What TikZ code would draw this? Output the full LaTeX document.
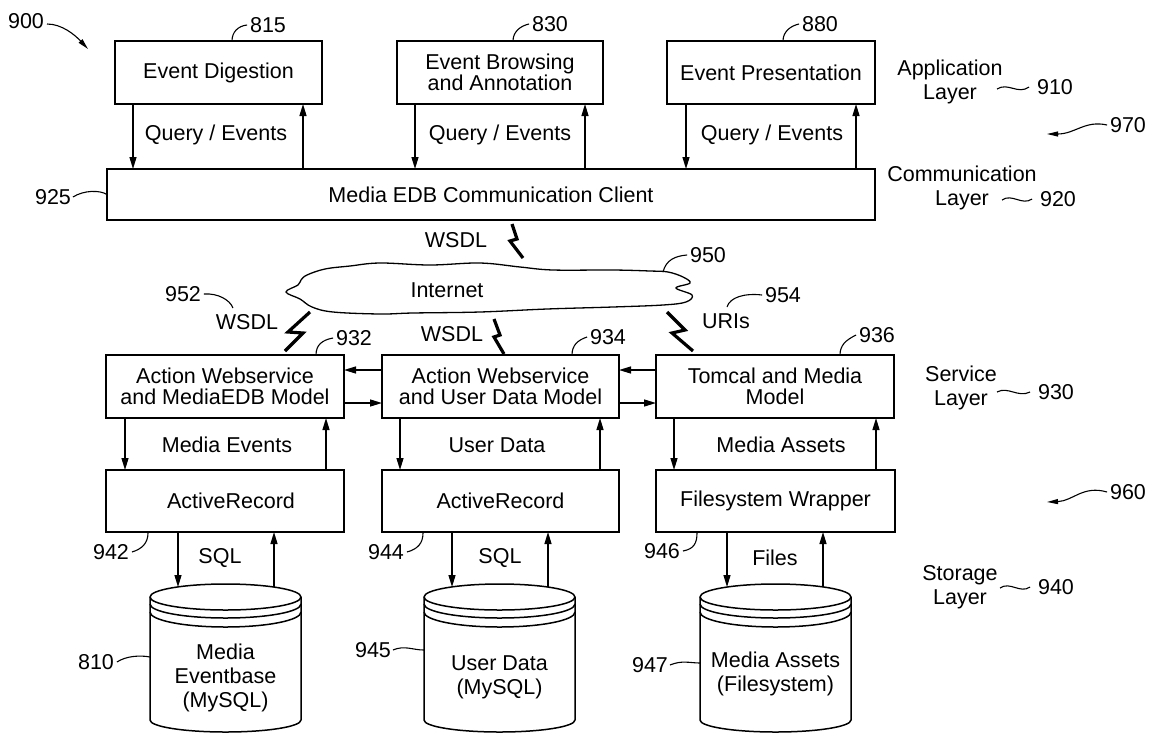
\documentclass[tikz,border=0pt]{standalone}
\usepackage{fontspec}
\setmainfont{Liberation Sans}
\usetikzlibrary{arrows.meta,calc}
\newcommand\myvpair[4]{%
  \coordinate (vpA) at (#3,0); \coordinate (vpB) at (#4,0);
  \draw[arr] (#1.south -| vpA) -- (#2 -| vpA);
  \draw[arr] (#2 -| vpB) -- (#1.south -| vpB);}
\newcommand\mycyl[2]{%
  \draw[cyl] (#1-#2,597) arc[start angle=180,end angle=360,x radius=#2,y radius=13]
     -- (#1+#2,720) arc[start angle=0,end angle=180,x radius=#2,y radius=12] -- cycle;
  \draw[cyl] (#1-#2,597) arc[start angle=180,end angle=0,x radius=#2,y radius=13];
  \draw[cyl] (#1-#2,604) arc[start angle=180,end angle=0,x radius=#2,y radius=14];
  \draw[cyl] (#1-#2,612) arc[start angle=180,end angle=0,x radius=#2,y radius=15];}
\begin{document}
\begin{tikzpicture}[x=1pt,y=-1pt,
  every node/.style={inner sep=0pt,outer sep=0pt},
  box/.style={draw,line width=1.6pt,align=center,font=\fontsize{21.5}{21}\selectfont},
  txt/.style={align=center,font=\fontsize{21.5}{24}\selectfont},
  arr/.style={line width=1.3pt,-{Triangle[length=12pt,width=7pt]}},
  lead/.style={line width=1.1pt},
  thinarr/.style={line width=1.1pt,-{Triangle[length=11pt,width=5pt]}},
  boltline/.style={line width=3.2pt,line join=miter},
  cyl/.style={line width=1.5pt}]
\useasboundingbox (0,0) rectangle (1153,734);

% Application layer
\node[box,minimum width=207pt,minimum height=63pt] (b815) at (218.5,72.5) {Event Digestion};
\node[box,minimum width=206pt,minimum height=63pt] (b830) at (500,72.5) {Event Browsing\\and Annotation};
\node[box,minimum width=208pt,minimum height=63pt] (b880) at (771,72.5) {Event Presentation};
\node[box,minimum width=768pt,minimum height=51pt] (bar) at (491,194.5) {Media EDB Communication Client};

\myvpair{b815}{bar.north}{133}{303}
\myvpair{b830}{bar.north}{415}{585}
\myvpair{b880}{bar.north}{686}{856}
\node[txt] (q1) at (216,135) {Query / Events};
\node[txt] (q2) at (500,135) {Query / Events};
\node[txt] (q3) at (772,135) {Query / Events};

% labels top
\node[txt] (n900) at (26,21) {900};
\draw[thinarr] (47,24) .. controls (62,24) and (75,35) .. (88,49);
\node[txt] (n815) at (268,25) {815};
\draw[lead] ([xshift=-3pt]n815.west) .. controls (238,26) and (232,32) .. (232,41);
\node[txt] (n830) at (550,24) {830};
\draw[lead] ([xshift=-3pt]n830.west) .. controls (520,26) and (513,32) .. (513,41);
\node[txt] (n880) at (820,24) {880};
\draw[lead] ([xshift=-3pt]n880.west) .. controls (790,26) and (783,32) .. (783,41);

\node[txt] (lapp) at (950,82) {Application\\Layer};
\node[txt] (n910) at (1055,87) {910};
\draw[lead] (997,89) .. controls (1008,82) and (1018,95) .. ([xshift=-8pt]n910.west);
\node[txt] (n970) at (1128,125) {970};
\draw[thinarr] ([xshift=-3pt]n970.west) .. controls (1085,120) and (1075,134) .. (1047,134);
\node[txt] (lcom) at (962,188) {Communication\\Layer};
\node[txt] (n920) at (1058,199) {920};
\draw[lead] (1002,200) .. controls (1012,193) and (1022,206) .. ([xshift=-8pt]n920.west);
\node[txt] (n925) at (53,197) {925};
\draw[lead] ([xshift=2pt]n925.east) .. controls (84,190) and (100,190) .. (bar.west);

% Internet cloud
\draw[line width=1.3pt] plot[smooth cycle,tension=0.6] coordinates {
 (307,275) (325,269) (350,266) (380,263) (430,265) (480,263) (520,267) (553,270)
 (613,270) (650,271) (668,272) (683,277) (690,283) (676,288) (692,295) (686,302)
 (663,305) (613,307) (547,309) (480,312) (413,313) (380,314) (333,312) (312,307)
 (300,299) (286,292) (298,285) (301,280)};
\node[txt] (inet) at (447,290) {Internet};
\node[txt] (n950) at (708,255) {950};
\draw[lead] (663,272) .. controls (666,260) and (675,256) .. ([xshift=-3pt]n950.west);

% WSDL / URIs
\node[txt] (w1) at (456,240) {WSDL};
\draw[boltline] (512,224) -- (517,239) -- (510,241) -- (523,258);
\node[txt] (w2) at (247,322) {WSDL};
\draw[boltline] (310,312) -- (288,332) -- (303,333) -- (285,351);
\node[txt] (w3) at (452,334) {WSDL};
\draw[boltline] (494,319) -- (500,335) -- (494,337) -- (504,354);
\node[txt] (uri) at (726,321) {URIs};
\draw[boltline] (667,312) -- (685,330) -- (672,333) -- (693,351);
\node[txt] (n952) at (183,294) {952};
\draw[lead] ([xshift=3pt]n952.east) .. controls (218,293) and (230,300) .. (233,308);
\node[txt] (n954) at (783,295) {954};
\draw[lead] (727,307) .. controls (730,297) and (745,293) .. ([xshift=-3pt]n954.west);

% Service layer
\node[box,minimum width=238pt,minimum height=63pt] (s932) at (225,386.5) {Action Webservice\\and MediaEDB Model};
\node[box,minimum width=237pt,minimum height=63pt] (s934) at (500.5,386.5) {Action Webservice\\and User Data Model};
\node[box,minimum width=238pt,minimum height=63pt] (s936) at (775,386.5) {Tomcal and Media\\Model};
\node[txt] (n932) at (354,338) {932};
\draw[lead] (316,355) .. controls (316,345) and (322,340) .. ([xshift=-3pt]n932.west);
\node[txt] (n934) at (608,337) {934};
\draw[lead] (572,355) .. controls (572,345) and (578,340) .. ([xshift=-3pt]n934.west);
\node[txt] (n936) at (877,335) {936};
\draw[lead] (840,355) .. controls (840,345) and (846,340) .. ([xshift=-3pt]n936.west);

\coordinate (h1) at (0,370); \coordinate (h2) at (0,403);
\draw[arr] (s934.west |- h1) -- (s932.east |- h1);
\draw[arr] (s932.east |- h2) -- (s934.west |- h2);
\draw[arr] (s936.west |- h1) -- (s934.east |- h1);
\draw[arr] (s934.east |- h2) -- (s936.west |- h2);

\node[txt] (lser) at (961,388) {Service\\Layer};
\node[txt] (n930) at (1056,392) {930};
\draw[lead] (997,392) .. controls (1008,386) and (1018,398) .. ([xshift=-8pt]n930.west);

% Storage wrappers
\node[box,minimum width=238pt,minimum height=62pt] (a942) at (225,501) {\hspace*{12pt}ActiveRecord};
\node[box,minimum width=237pt,minimum height=62pt] (a944) at (500.5,501) {ActiveRecord};
\node[box,minimum width=239pt,minimum height=62pt] (a946) at (775.5,501) {Filesystem Wrapper};
\myvpair{s932}{a942.north}{125}{326}
\myvpair{s934}{a944.north}{400}{600}
\myvpair{s936}{a946.north}{674}{876}
\node[txt] (me) at (227,445) {Media Events};
\node[txt] (ud) at (497,445) {User Data};
\node[txt] (ma) at (781,445) {Media Assets};

\node[txt] (n960) at (1128,492) {960};
\draw[thinarr] ([xshift=-3pt]n960.west) .. controls (1083,485) and (1073,501) .. (1047,502);

% Cylinders
\mycyl{225.5}{75.5}
\mycyl{499.5}{75.5}
\mycyl{775.5}{75.5}
\coordinate (c810) at (225.5,587);
\coordinate (c945) at (499.5,587);
\coordinate (c947) at (775.5,587);
\myvpair{a942}{c810}{178}{274}
\myvpair{a944}{c945}{452}{548}
\myvpair{a946}{c947}{727}{823}
\node[txt] (sql1) at (220,558) {SQL};
\node[txt] (sql2) at (500,558) {SQL};
\node[txt] (fil) at (775,558) {Files};
\node[txt] (t810) at (225.5,678) {Media\\Eventbase\\(MySQL)};
\node[txt] (t945) at (499.5,677) {User Data\\(MySQL)};
\node[txt] (t947) at (775.5,674) {Media Assets\\(Filesystem)};

\node[txt] (n942) at (111,552) {942};
\draw[lead] ([xshift=3pt]n942.east) .. controls (142,549) and (148,543) .. (148,533);
\node[txt] (n944) at (386,552) {944};
\draw[lead] ([xshift=3pt]n944.east) .. controls (418,549) and (423,543) .. (423,533);
\node[txt] (n946) at (662,551) {946};
\draw[lead] ([xshift=3pt]n946.east) .. controls (694,549) and (697,543) .. (697,533);
\node[txt] (n810) at (96,662) {810};
\draw[lead] ([xshift=3pt]n810.east) .. controls (126,656) and (140,655) .. (150,657);
\node[txt] (n945) at (373,650) {945};
\draw[lead] ([xshift=2pt]n945.east) .. controls (405,645) and (412,650) .. (424,650);
\node[txt] (n947) at (650,665) {947};
\draw[lead] ([xshift=2pt]n947.east) .. controls (682,660) and (690,663) .. (700,663);

\node[txt] (lsto) at (960,587) {Storage\\Layer};
\node[txt] (n940) at (1056,587) {940};
\draw[lead] (1000,588) .. controls (1010,581) and (1020,594) .. ([xshift=-8pt]n940.west);
\end{tikzpicture}
\end{document}
